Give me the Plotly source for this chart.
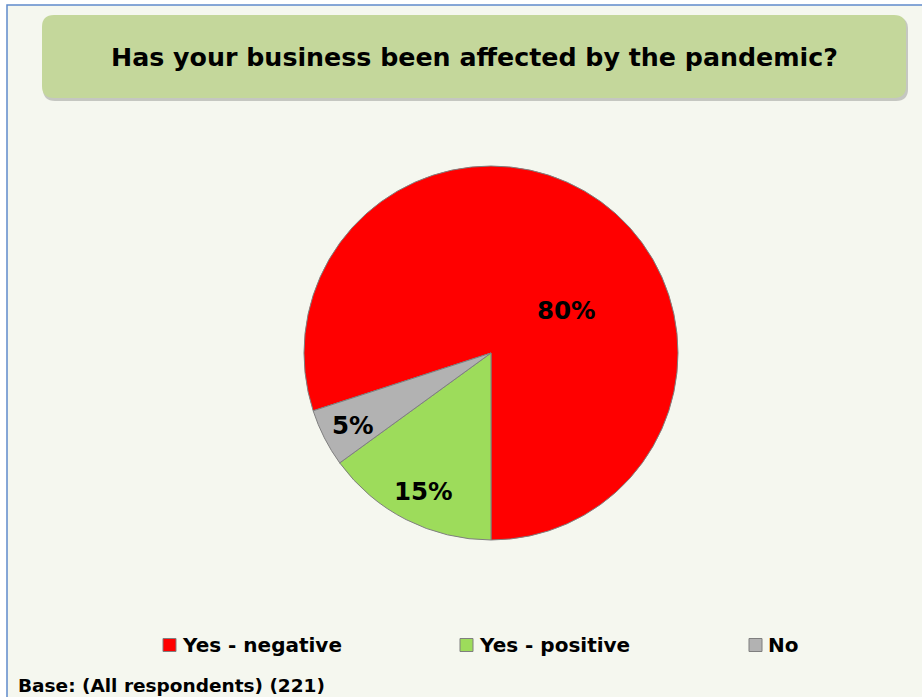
import plotly.graph_objects as go

# ---- data ----
categories = ["Yes - negative", "Yes - positive", "No"]
values = [80, 15, 5]
colors = ["#FF0000", "#9DDC5B", "#B2B2B2"]
title_text = "Has your business been affected by the pandemic?"
base_text = "Base: (All respondents) (221)"

W, H = 922, 697
FONT = "DejaVu Sans"


def px(x):
    return x / W


def py(y):
    return 1 - y / H


def rounded_rect(x0, y0, x1, y1, r):
    pts = [
        f"M{px(x0 + r)},{py(y0)}",
        f"L{px(x1 - r)},{py(y0)}",
        f"Q{px(x1)},{py(y0)} {px(x1)},{py(y0 + r)}",
        f"L{px(x1)},{py(y1 - r)}",
        f"Q{px(x1)},{py(y1)} {px(x1 - r)},{py(y1)}",
        f"L{px(x0 + r)},{py(y1)}",
        f"Q{px(x0)},{py(y1)} {px(x0)},{py(y1 - r)}",
        f"L{px(x0)},{py(y0 + r)}",
        f"Q{px(x0)},{py(y0)} {px(x0 + r)},{py(y0)}",
        "Z",
    ]
    return " ".join(pts)


total = sum(values)
pct_text = [f"{v / total * 100:.0f}%" for v in values]

fig = go.Figure(
    go.Pie(
        labels=categories,
        values=values,
        sort=False,
        direction="clockwise",
        rotation=252,
        marker=dict(colors=colors, line=dict(color="#7F7F7F", width=1)),
        textinfo="none",
        domain=dict(x=[px(304), px(678)], y=[py(540), py(166)]),
        hoverinfo="label+percent",
        showlegend=False,
    )
)

shapes = [
    # chart area
    dict(type="rect", xref="paper", yref="paper", x0=px(7), y0=py(H + 10), x1=px(W + 10), y1=py(5),
         fillcolor="#F5F7EF", line=dict(color="#5F8BCB", width=1.5), layer="below"),
    # title box shadow
    dict(type="path", xref="paper", yref="paper", path=rounded_rect(43, 17, 908, 101, 12),
         fillcolor="rgba(110,110,110,0.35)", line=dict(width=0), layer="below"),
    # title box
    dict(type="path", xref="paper", yref="paper", path=rounded_rect(42, 15, 906, 98, 12),
         fillcolor="#C4D79B", line=dict(width=0), layer="below"),
]

annotations = [
    dict(text=f"<b>{title_text}</b>", xref="paper", yref="paper", x=px(474.5), y=py(57),
         xanchor="center", yanchor="middle", showarrow=False,
         font=dict(family=FONT, size=25.3, color="black")),
    dict(text=f"<b>{base_text}</b>", xref="paper", yref="paper", x=px(17), y=0,
         xanchor="left", yanchor="bottom", showarrow=False, borderpad=0,
         font=dict(family=FONT, size=18.5, color="black")),
]

# slice percentage labels
label_pos = [(566, 310), (423.5, 491), (353, 425)]
for t, (lx, ly) in zip(pct_text, label_pos):
    annotations.append(dict(text=f"<b>{t}</b>", xref="paper", yref="paper", x=px(lx), y=py(ly),
                            xanchor="center", yanchor="middle", showarrow=False,
                            font=dict(family=FONT, size=24.5, color="black")))

# legend (bottom row)
legend_x = [163, 460, 749]
legend_y = 645
sq = 13
for name, col, lx in zip(categories, colors, legend_x):
    shapes.append(dict(type="rect", xref="paper", yref="paper",
                       x0=px(lx), x1=px(lx + sq), y0=py(legend_y + sq / 2), y1=py(legend_y - sq / 2),
                       fillcolor=col, line=dict(color="#7F7F7F", width=1)))
    annotations.append(dict(text=f"<b>{name}</b>", xref="paper", yref="paper",
                            x=px(lx + sq + 4), y=py(legend_y), xanchor="left", yanchor="middle",
                            showarrow=False, font=dict(family=FONT, size=20, color="black")))

fig.update_layout(
    width=W,
    height=H,
    margin=dict(l=0, r=0, t=0, b=0),
    paper_bgcolor="white",
    plot_bgcolor="rgba(0,0,0,0)",
    shapes=shapes,
    annotations=annotations,
    showlegend=False,
)

fig.write_html("out.html", config={"displayModeBar": False},
               post_script="document.body.style.margin='0';")
